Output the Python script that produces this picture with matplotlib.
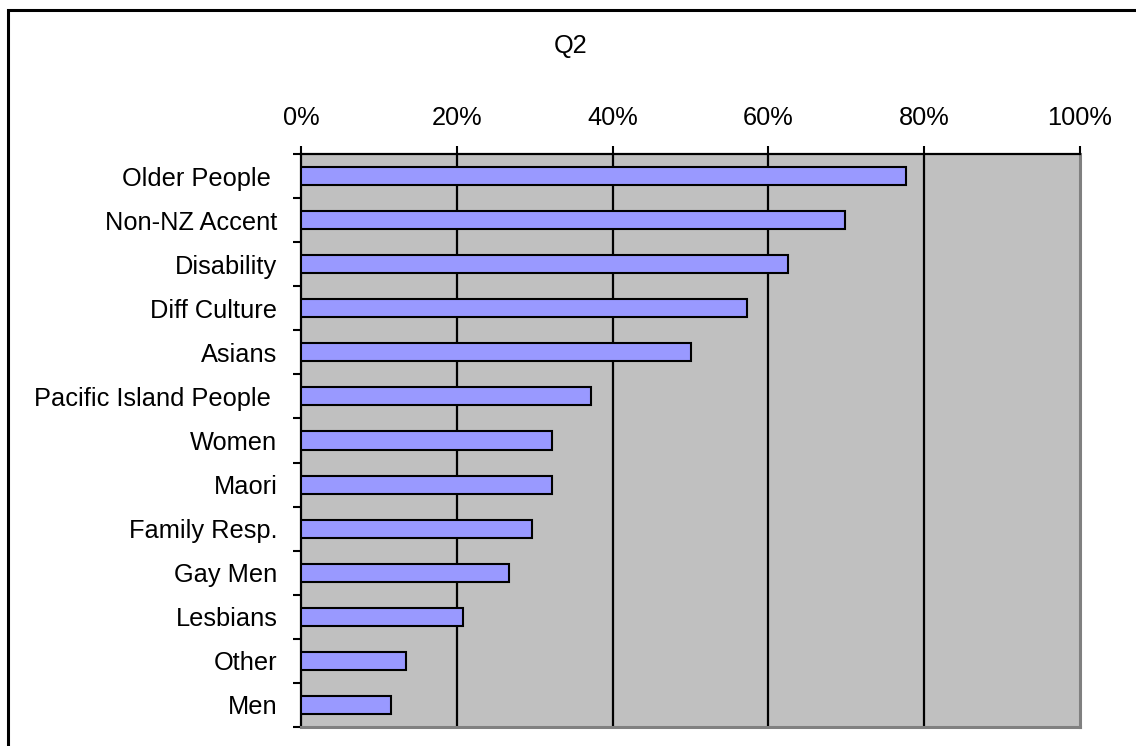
import numpy as np
import matplotlib
matplotlib.use('Agg')
import matplotlib.pyplot as plt
from matplotlib.patches import Rectangle

plt.rcParams['font.family'] = ['Liberation Sans', 'DejaVu Sans']

categories = ['Older People ', 'Non-NZ Accent', 'Disability', 'Diff Culture',
              'Asians', 'Pacific Island People ', 'Women', 'Maori',
              'Family Resp.', 'Gay Men', 'Lesbians', 'Other', 'Men']
values = [77.7, 69.8, 62.5, 57.3, 50.1, 37.2, 32.2, 32.2, 29.7, 26.7, 20.8, 13.5, 11.6]
xticks = [0, 20, 40, 60, 80, 100]
xtick_labels = ['0%', '20%', '40%', '60%', '80%', '100%']

W, H = 1136, 746
fig = plt.figure(figsize=(W / 100, H / 100), dpi=100)
ax = fig.add_axes([301 / W, 1 - 727 / H, (1080 - 301) / W, (727 - 154) / H])
ax.set_facecolor('#C0C0C0')

y = np.arange(len(categories))
ax.barh(y, values, height=0.41, color='#9999FF', edgecolor='black',
        linewidth=1.5, zorder=3)

ax.set_xlim(0, 100)
ax.set_ylim(len(categories) - 0.5, -0.5)

# vertical gridlines at 20% steps
for xv in xticks[1:-1]:
    ax.axvline(xv, color='black', linewidth=1.6, zorder=2)

ax.xaxis.tick_top()
ax.set_xticks(xticks)
ax.set_xticklabels(xtick_labels, fontsize=18.3)
ax.tick_params(axis='x', direction='out', length=6, width=1.5, pad=11)

ax.set_yticks(y)
ax.set_yticklabels(categories, fontsize=18.3)
ax.set_yticks(np.arange(-0.5, len(categories), 1.0), minor=True)
ax.tick_params(axis='y', which='major', length=0, pad=17)
ax.tick_params(axis='y', which='minor', direction='out', length=6, width=1.5)

ax.spines['top'].set_linewidth(1.6)
ax.spines['left'].set_linewidth(1.6)
ax.spines['right'].set_color('#808080')
ax.spines['right'].set_linewidth(2.2)
ax.spines['bottom'].set_color('#808080')
ax.spines['bottom'].set_linewidth(2.2)

fig.text(571 / W, 1 - 46 / H, 'Q2', ha='center', va='center', fontsize=18.3)

# outer chart border (cropped on right and bottom)
fig.patches.append(Rectangle((8 / W, -0.1), 1.2, 1.1 - 10 / H,
                             transform=fig.transFigure, fill=False,
                             edgecolor='black', linewidth=2.2))

fig.savefig('out.png', dpi=100)
